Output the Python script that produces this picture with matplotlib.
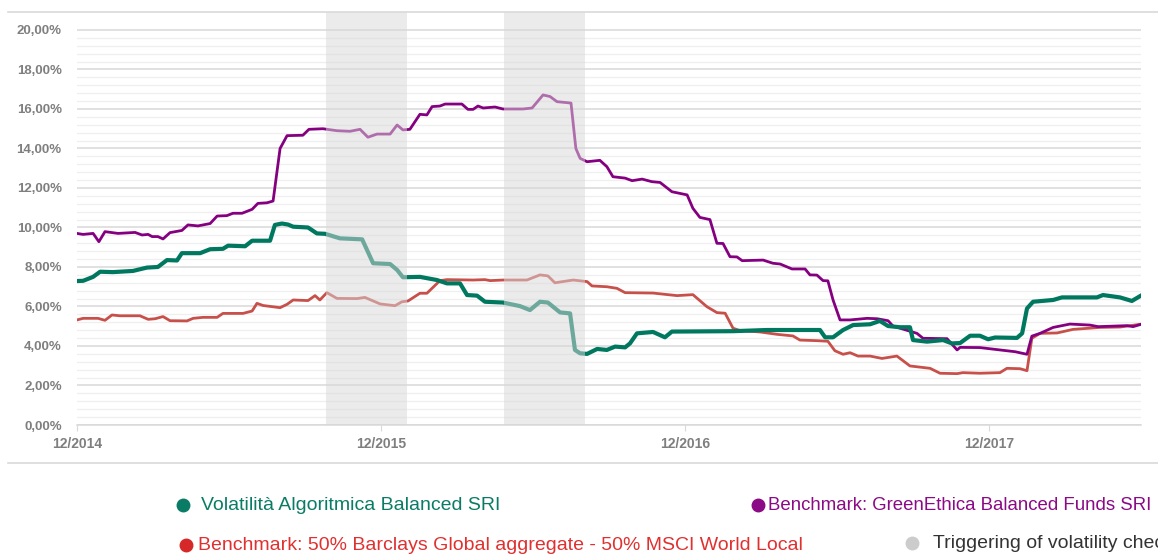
import matplotlib
matplotlib.use("Agg")
import matplotlib.pyplot as plt
from matplotlib.lines import Line2D
import numpy as np

# time axis in years since 12/2014
t_fund = [0.000, 0.020, 0.053, 0.076, 0.118, 0.184, 0.230, 0.266, 0.296, 0.329, 0.345, 0.405,
          0.438, 0.480, 0.497, 0.553, 0.576, 0.635, 0.651, 0.674, 0.694, 0.711, 0.760, 0.789,
          0.816, 0.865, 0.938, 0.974, 1.030, 1.053, 1.072, 1.128, 1.184, 1.217, 1.260, 1.283,
          1.316, 1.342, 1.401, 1.457, 1.490, 1.523, 1.549, 1.589, 1.622, 1.638, 1.655, 1.678,
          1.711, 1.743, 1.770, 1.803, 1.819, 1.842, 1.895, 1.934, 1.957, 2.158, 2.270, 2.444,
          2.461, 2.487, 2.520, 2.553, 2.609, 2.641, 2.668, 2.707, 2.740, 2.750, 2.796, 2.849,
          2.878, 2.905, 2.938, 2.970, 2.997, 3.020, 3.092, 3.109, 3.125, 3.145, 3.211, 3.240,
          3.355, 3.375, 3.431, 3.470, 3.503]
v_fund = [7.29, 7.30, 7.50, 7.76, 7.74, 7.80, 7.97, 8.00, 8.35, 8.33, 8.70, 8.70,
          8.90, 8.92, 9.08, 9.05, 9.33, 9.33, 10.13, 10.20, 10.15, 10.04, 10.00, 9.70,
          9.68, 9.45, 9.40, 8.19, 8.15, 7.85, 7.48, 7.50, 7.34, 7.17, 7.17, 6.58,
          6.55, 6.24, 6.20, 6.02, 5.82, 6.24, 6.20, 5.70, 5.65, 3.80, 3.63, 3.60,
          3.85, 3.80, 3.97, 3.93, 4.13, 4.64, 4.71, 4.44, 4.73, 4.75, 4.81, 4.81,
          4.44, 4.44, 4.81, 5.06, 5.10, 5.27, 5.01, 4.95, 4.95, 4.30, 4.22, 4.30,
          4.13, 4.15, 4.52, 4.52, 4.34, 4.43, 4.41, 4.64, 5.90, 6.24, 6.33, 6.46,
          6.46, 6.58, 6.46, 6.28, 6.58]

t_green = [0.000, 0.020, 0.053, 0.072, 0.092, 0.135, 0.191, 0.214, 0.234, 0.247, 0.266, 0.283,
           0.306, 0.345, 0.365, 0.398, 0.438, 0.461, 0.493, 0.513, 0.543, 0.576, 0.595, 0.625,
           0.645, 0.668, 0.691, 0.743, 0.763, 0.809, 0.855, 0.898, 0.931, 0.957, 0.987, 1.030,
           1.053, 1.072, 1.095, 1.128, 1.151, 1.168, 1.194, 1.211, 1.266, 1.286, 1.303, 1.319,
           1.336, 1.375, 1.401, 1.467, 1.497, 1.533, 1.556, 1.579, 1.625, 1.641, 1.655, 1.678,
           1.720, 1.743, 1.763, 1.803, 1.826, 1.859, 1.891, 1.918, 1.957, 2.007, 2.026, 2.049,
           2.082, 2.105, 2.125, 2.148, 2.171, 2.188, 2.257, 2.289, 2.313, 2.352, 2.395, 2.411,
           2.434, 2.454, 2.470, 2.487, 2.510, 2.543, 2.599, 2.632, 2.668, 2.684, 2.763, 2.783,
           2.862, 2.895, 2.905, 2.970, 3.036, 3.086, 3.125, 3.141, 3.168, 3.211, 3.266, 3.332,
           3.359, 3.454, 3.474, 3.503]
v_green = [9.70, 9.65, 9.70, 9.28, 9.79, 9.70, 9.75, 9.62, 9.65, 9.54, 9.54, 9.42,
           9.74, 9.85, 10.13, 10.08, 10.20, 10.58, 10.60, 10.72, 10.72, 10.92, 11.22, 11.25,
           11.34, 14.00, 14.65, 14.67, 14.97, 15.00, 14.90, 14.87, 14.97, 14.57, 14.73, 14.73,
           15.19, 14.94, 14.97, 15.73, 15.70, 16.12, 16.15, 16.25, 16.25, 15.98, 15.98, 16.15,
           16.05, 16.10, 16.00, 16.00, 16.05, 16.71, 16.63, 16.37, 16.30, 14.00, 13.50, 13.33,
           13.40, 13.08, 12.57, 12.50, 12.37, 12.45, 12.32, 12.28, 11.81, 11.65, 10.97, 10.51,
           10.40, 9.20, 9.19, 8.52, 8.51, 8.32, 8.35, 8.19, 8.15, 7.90, 7.90, 7.60,
           7.59, 7.31, 7.30, 6.33, 5.32, 5.32, 5.40, 5.38, 5.28, 5.01, 4.64, 4.39,
           4.37, 3.80, 3.93, 3.92, 3.80, 3.71, 3.58, 4.50, 4.64, 4.94, 5.11, 5.06,
           4.98, 5.03, 4.98, 5.11]

t_mix = [0.000, 0.020, 0.069, 0.092, 0.115, 0.141, 0.207, 0.234, 0.257, 0.283, 0.306, 0.362,
         0.382, 0.414, 0.461, 0.480, 0.546, 0.576, 0.592, 0.612, 0.668, 0.691, 0.711, 0.760,
         0.783, 0.799, 0.822, 0.855, 0.921, 0.947, 0.997, 1.046, 1.069, 1.089, 1.128, 1.151,
         1.194, 1.217, 1.303, 1.342, 1.359, 1.401, 1.480, 1.523, 1.549, 1.572, 1.632, 1.678,
         1.694, 1.743, 1.776, 1.803, 1.895, 1.974, 2.026, 2.072, 2.105, 2.132, 2.158, 2.181,
         2.247, 2.303, 2.355, 2.378, 2.434, 2.470, 2.493, 2.520, 2.543, 2.569, 2.609, 2.648,
         2.697, 2.740, 2.806, 2.839, 2.895, 2.914, 2.970, 3.036, 3.059, 3.102, 3.125, 3.141,
         3.168, 3.224, 3.276, 3.365, 3.431, 3.503]
v_mix = [5.32, 5.40, 5.40, 5.30, 5.57, 5.53, 5.53, 5.35, 5.38, 5.49, 5.28, 5.27,
         5.40, 5.45, 5.45, 5.65, 5.65, 5.77, 6.16, 6.05, 5.94, 6.11, 6.33, 6.30,
         6.55, 6.33, 6.70, 6.41, 6.40, 6.46, 6.13, 6.04, 6.24, 6.28, 6.67, 6.67,
         7.31, 7.36, 7.34, 7.36, 7.31, 7.34, 7.34, 7.60, 7.55, 7.20, 7.34, 7.26,
         7.04, 7.00, 6.92, 6.70, 6.68, 6.55, 6.60, 5.99, 5.69, 5.66, 4.90, 4.78,
         4.71, 4.59, 4.51, 4.30, 4.27, 4.24, 3.76, 3.58, 3.66, 3.49, 3.49, 3.37,
         3.49, 2.99, 2.87, 2.62, 2.60, 2.65, 2.62, 2.65, 2.87, 2.85, 2.75, 4.39,
         4.64, 4.66, 4.84, 4.94, 4.96, 5.11]

trigger_periods = [(0.819, 1.086), (1.405, 1.671)]
year_labels = ['12/2014', '12/2015', '12/2016', '12/2017']

C_FUND = '#00785F'
C_GREEN = '#850080'
C_MIX = '#C8504B'

W, H = 1158, 555
fig = plt.figure(figsize=(W / 100, H / 100), dpi=100)
ax = fig.add_axes([77 / W, 1 - 425 / H, (1141 - 77) / W, (425 - 12) / H])

ax.plot(t_mix, v_mix, color=C_MIX, lw=2.0, zorder=3)
ax.plot(t_green, v_green, color=C_GREEN, lw=2.0, zorder=4)
ax.plot(t_fund, v_fund, color=C_FUND, lw=3.0, zorder=5)

# shading drawn over the lines so they look faded inside the periods
for a, b in trigger_periods:
    ax.axvspan(a, b, color='#D8D8D8', alpha=0.51, lw=0, zorder=6)

ax.set_xlim(0, 3.5)
ax.set_ylim(0, 20.91)
ax.set_yticks(np.arange(0, 20.01, 2))
ax.set_yticks(np.arange(0, 20.01, 0.4), minor=True)
ax.set_yticklabels([f"{v:.2f}".replace('.', ',') + '%' for v in np.arange(0, 20.01, 2)])
ax.set_xticks(range(len(year_labels)))
ax.set_xticklabels(year_labels)

ax.grid(axis='y', which='major', color='#D9D9D9', lw=1.1, zorder=0)
ax.grid(axis='y', which='minor', color='#EFEFEF', lw=0.9, zorder=0)
ax.set_axisbelow(True)
for s in ['top', 'left', 'right']:
    ax.spines[s].set_visible(False)
ax.spines['bottom'].set_color('#D9D9D9')
ax.spines['bottom'].set_linewidth(1.1)

ax.tick_params(axis='y', which='both', length=0, pad=11,
               labelsize=9.5, labelcolor='#7F7F7F')
ax.tick_params(axis='x', length=4, color='#D9D9D9', pad=5,
               labelsize=10, labelcolor='#7F7F7F')
for lab in ax.get_xticklabels() + ax.get_yticklabels():
    lab.set_fontweight('bold')
    lab.set_family(['Liberation Sans', 'DejaVu Sans'])

# frame lines above and below the chart
for yy in (12, 463):
    fig.add_artist(Line2D([8 / W, 1], [1 - yy / H, 1 - yy / H],
                          transform=fig.transFigure, color='#D9D9D9', lw=1.2))

# legend
leg_font = ['Liberation Sans', 'DejaVu Sans']
legend_items = [
    (183, 505, 201, 14, 'Volatilità Algoritmica Balanced SRI', '#0A7C66', '#0A7C66'),
    (758, 505, 768, 13.4, 'Benchmark: GreenEthica Balanced Funds SRI', '#8B0A85', '#8B0A85'),
    (186, 545, 198, 14, 'Benchmark: 50% Barclays Global aggregate - 50% MSCI World Local', '#D62828', '#E03030'),
    (912, 543, 933, 14, 'Triggering of volatility check', '#CCCCCC', '#333333'),
]
for mx, my, tx, fs, txt, mc, tc in legend_items:
    fig.add_artist(Line2D([mx / W], [1 - my / H], transform=fig.transFigure,
                          marker='o', ms=9, color=mc, lw=0))
    fig.text(tx / W, 1 - my / H, txt, color=tc, fontsize=fs, va='center',
             ha='left', family=leg_font)

fig.savefig('out.png', dpi=100)
